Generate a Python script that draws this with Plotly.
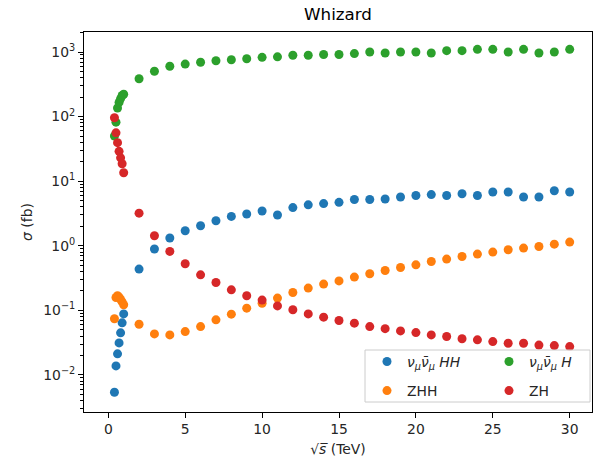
import plotly.graph_objects as go

# ---- data ----
sqrt_s = [0.4, 0.5, 0.6, 0.7, 0.8, 0.9, 1.0,
          2, 3, 4, 5, 6, 7, 8, 9, 10, 11, 12, 13, 14, 15, 16, 17, 18, 19, 20,
          21, 22, 23, 24, 25, 26, 27, 28, 29, 30]

nn_HH = [0.0054, 0.0138, 0.0212, 0.0313, 0.0448, 0.064, 0.088,
         0.435, 0.89, 1.32, 1.71, 2.04, 2.44, 2.85, 3.1, 3.45, 3.0, 3.9, 4.3, 4.5, 4.7,
         5.2, 5.2, 5.3, 5.7, 6.0, 6.2, 6.0, 6.4, 6.0, 6.8, 6.8, 5.7, 5.7, 7.1, 6.8]

ZHH = [0.074, 0.158, 0.168, 0.16, 0.148, 0.135, 0.122,
       0.061, 0.0432, 0.0417, 0.0469, 0.056, 0.0713, 0.0873, 0.108, 0.129, 0.155,
       0.189, 0.221, 0.255, 0.286, 0.327, 0.368, 0.414, 0.461, 0.507, 0.571, 0.622,
       0.683, 0.743, 0.798, 0.867, 0.92, 0.975, 1.06, 1.14]

nn_H = [50, 82, 136, 166, 190, 212, 222,
        385, 503, 602, 650, 695, 733, 760, 788, 828, 843, 890, 890, 915, 915,
        945, 1000, 965, 1000, 1000, 965, 1050, 1050, 1100, 1100, 1000, 1100, 965, 1000, 1100]

ZH = [96, 56, 39.5, 29, 23, 18.6, 13.5,
      3.2, 1.43, 0.817, 0.526, 0.355, 0.27, 0.208, 0.168, 0.144, 0.117, 0.102, 0.088,
      0.0785, 0.0695, 0.0634, 0.056, 0.052, 0.048, 0.0453, 0.0417, 0.0393, 0.0363,
      0.0349, 0.0328, 0.031, 0.031, 0.029, 0.0285, 0.0275]

series_names = ["<i>ν<sub>μ</sub>ν̄<sub>μ</sub> HH</i>", "ZHH",
                "<i>ν<sub>μ</sub>ν̄<sub>μ</sub> H</i>", "ZH"]
series_values = [nn_HH, ZHH, nn_H, ZH]
series_colors = ["#1f77b4", "#ff7f0e", "#2ca02c", "#d62728"]
series_legend = ["legend", "legend", "legend2", "legend2"]

x_ticks = [0, 5, 10, 15, 20, 25, 30]
y_ticks = [1e-2, 1e-1, 1e0, 1e1, 1e2, 1e3]
y_ticktext = ["10<sup>−2</sup>", "10<sup>−1</sup>", "10<sup>0</sup>",
              "10<sup>1</sup>", "10<sup>2</sup>", "10<sup>3</sup>"]

FONT = "DejaVu Sans"
TXT = "#262626"
W, H = 593, 458
L, R, T, B = 84, 1, 32, 46
PW, PH = W - L - R, H - T - B


def px_x(p):
    return (p - L) / PW


def px_y(p):
    return (H - B - p) / PH


fig = go.Figure()
for i, (name, vals, col, lg) in enumerate(zip(series_names, series_values, series_colors, series_legend)):
    fig.add_trace(go.Scatter(
        x=sqrt_s, y=vals, mode="markers", name=name, legend=lg, legendgroup="g%d" % i,
        marker=dict(color=col, size=9, line=dict(width=0)),
    ))

minor_vals = [m * 10 ** e for e in range(-3, 4) for m in range(2, 10)]

legend_common = dict(orientation="v", xanchor="left", yanchor="top",
                     bgcolor="rgba(0,0,0,0)", borderwidth=0,
                     font=dict(family=FONT, size=13.9, color=TXT),
                     traceorder="grouped", tracegroupgap=8)

fig.update_layout(
    template="none",
    width=W, height=H,
    margin=dict(l=L, r=R, t=T, b=B, autoexpand=False),
    paper_bgcolor="white", plot_bgcolor="white",
    font=dict(family=FONT, size=13.9, color=TXT),
    title=dict(text="Whizard", x=0.5, xref="paper", y=1 - 14 / H, yref="container",
               xanchor="center", yanchor="middle",
               font=dict(family=FONT, size=16.7, color="black")),
    showlegend=True,
    legend=dict(x=px_x(367), y=px_y(346), **legend_common),
    legend2=dict(x=px_x(489), y=px_y(346), **legend_common),
    shapes=[dict(type="rect", xref="paper", yref="paper", layer="above",
                 x0=px_x(365), x1=px_x(590), y0=px_y(402), y1=px_y(350),
                 fillcolor="rgba(255,255,255,0.8)", line=dict(color="#cccccc", width=1))],
)

fig.update_xaxes(
    range=[-1.58, 31.45], tickvals=x_ticks, ticktext=[str(v) for v in x_ticks],
    showline=True, mirror=True, linecolor="black", linewidth=1,
    ticks="outside", ticklen=4.5, tickwidth=1, tickcolor="black",
    showgrid=False, zeroline=False, automargin=False,
    title=dict(text="√<i>s̅</i> (TeV)", standoff=8, font=dict(size=13.9)),
)
fig.update_yaxes(
    type="log", range=[-2.574, 3.31], tickvals=y_ticks, ticktext=y_ticktext,
    showline=True, mirror=True, linecolor="black", linewidth=1,
    ticks="outside", ticklen=5, tickwidth=1, tickcolor="black",
    showgrid=False, zeroline=False, automargin=False,
    minor=dict(tickvals=minor_vals, ticks="outside", ticklen=3, tickwidth=0.8,
               tickcolor="black", showgrid=False),
    title=dict(text="<i>σ</i> (fb)", standoff=7, font=dict(size=13.9)),
)

# remove the browser's default 8px body margin so the figure sits at the page origin
fig.write_html("out.html", config={"displayModeBar": False},
               post_script="document.body.style.margin='0px';")
